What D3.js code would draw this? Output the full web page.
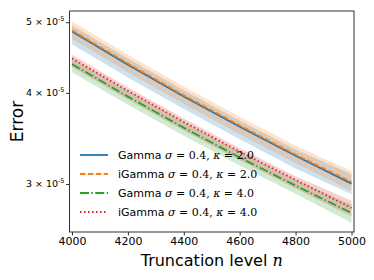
<!DOCTYPE html>
<html>
<head>
<meta charset="utf-8">
<script src="https://cdnjs.cloudflare.com/ajax/libs/d3/7.8.5/d3.min.js"></script>
<style>
	body { margin: 0; background: #fff; }
	svg text { font-family: 'DejaVu Sans', sans-serif; fill: #000; }
	.math { font-family: 'DejaVu Serif', 'Liberation Serif', serif; }
</style>
</head>
<body>
<div id="chart"></div>
<script>
// truncation levels
var nVals = [4000, 4200, 4400, 4600, 4800, 5000];

// series means (x 1e-5) and band bounds
var gamma2 = [4.855, 4.372, 3.955, 3.595, 3.280, 3.003];
var gamma2Lo = [4.665, 4.200, 3.800, 3.454, 3.151, 2.904];
var gamma2Hi = [4.950, 4.457, 4.032, 3.665, 3.344, 3.095];

var igamma2 = [4.874, 4.389, 3.970, 3.609, 3.292, 3.019];
var igamma2Lo = [4.740, 4.268, 3.861, 3.509, 3.202, 2.934];
var igamma2Hi = [5.010, 4.511, 4.081, 3.709, 3.384, 3.126];

var gamma4 = [4.380, 3.953, 3.583, 3.262, 2.984, 2.738];
var gamma4Lo = [4.270, 3.853, 3.493, 3.180, 2.909, 2.655];
var gamma4Hi = [4.460, 4.025, 3.649, 3.322, 3.039, 2.810];

var igamma4 = [4.460, 4.025, 3.649, 3.322, 3.039, 2.782];
var igamma4Lo = [4.340, 3.917, 3.551, 3.233, 2.957, 2.710];
var igamma4Hi = [4.510, 4.070, 3.690, 3.359, 3.073, 2.845];

var xTicks = [4000, 4200, 4400, 4600, 4800, 5000];
var yTicks = [3, 4, 5];

var labelNames = ['Gamma', 'iGamma', 'Gamma', 'iGamma'];
var labelKappa = ['2.0', '2.0', '4.0', '4.0'];
var colors = ['#1f77b4', '#ff7f0e', '#2ca02c', '#d62728'];
var dashes = [null, '5.5,2.4', '9,2.4,1.5,2.4', '1.5,2.5'];

var width = 374, height = 280;
var margin = { top: 11, right: 20, bottom: 48, left: 69.5 };
var w = width - margin.left - margin.right;
var h = height - margin.top - margin.bottom;

var series = [
	{ mean: gamma2, lo: gamma2Lo, hi: gamma2Hi },
	{ mean: igamma2, lo: igamma2Lo, hi: igamma2Hi },
	{ mean: gamma4, lo: gamma4Lo, hi: gamma4Hi },
	{ mean: igamma4, lo: igamma4Lo, hi: igamma4Hi }
];

var svg = d3.select('#chart').append('svg')
	.attr('width', width)
	.attr('height', height);

var g = svg.append('g')
	.attr('transform', 'translate(' + margin.left + ',' + margin.top + ')');

var x = d3.scaleLinear()
	.domain([3991, 5009])
	.range([0, w]);

var y = d3.scaleLog()
	.domain([2.578, 5.18])
	.range([h, 0]);

// bands
var area = d3.area()
	.x(function(d) { return x(d.n); })
	.y0(function(d) { return y(d.lo); })
	.y1(function(d) { return y(d.hi); });

series.forEach(function(s, i) {
	var pts = nVals.map(function(n, j) { return { n: n, lo: s.lo[j], hi: s.hi[j] }; });
	g.append('path')
		.datum(pts)
		.attr('d', area)
		.attr('fill', colors[i])
		.attr('fill-opacity', 0.22);
});

// lines
var line = d3.line()
	.x(function(d) { return x(d.n); })
	.y(function(d) { return y(d.v); });

series.forEach(function(s, i) {
	var pts = nVals.map(function(n, j) { return { n: n, v: s.mean[j] }; });
	g.append('path')
		.datum(pts)
		.attr('d', line)
		.attr('fill', 'none')
		.attr('stroke', colors[i])
		.attr('stroke-width', 1.8)
		.attr('stroke-dasharray', dashes[i]);
});

// frame
g.append('rect')
	.attr('width', w)
	.attr('height', h)
	.attr('fill', 'none')
	.attr('stroke', '#333')
	.attr('stroke-width', 1);

// x axis
var xAxis = g.append('g')
	.attr('transform', 'translate(0,' + h + ')')
	.call(d3.axisBottom(x).tickValues(xTicks).tickSize(3.5).tickPadding(2).tickFormat(d3.format('d')));
xAxis.select('.domain').remove();
xAxis.selectAll('line').attr('stroke', '#333');
xAxis.selectAll('text')
	.style('font-family', "'DejaVu Sans', sans-serif")
	.style('font-size', '11px');

// y axis with 10^-5 labels
var yAxis = g.append('g')
	.call(d3.axisLeft(y).tickValues(yTicks).tickSize(3.5).tickFormat(''));
yAxis.select('.domain').remove();
yAxis.selectAll('line').attr('stroke', '#333');

yTicks.forEach(function(t) {
	var txt = g.append('text')
		.attr('x', -5)
		.attr('y', y(t) + 3)
		.attr('text-anchor', 'end')
		.style('font-size', '9.5px');
	txt.append('tspan').text(t + ' \u00d7 10');
	txt.append('tspan')
		.attr('dy', -4)
		.style('font-size', '6.5px')
		.text('-5');
});

// axis labels
var xl = svg.append('text')
	.attr('x', margin.left + w / 2)
	.attr('y', 266)
	.attr('text-anchor', 'middle')
	.style('font-size', '16px');
xl.append('tspan').text('Truncation level ');
xl.append('tspan')
	.attr('class', 'math')
	.style('font-style', 'italic')
	.text('n');

svg.append('text')
	.attr('transform', 'translate(23,' + (margin.top + h / 2) + ') rotate(-90)')
	.attr('text-anchor', 'middle')
	.style('font-size', '17px')
	.text('Error');

// legend
var legend = svg.append('g')
	.attr('transform', 'translate(80,155)');

labelNames.forEach(function(name, i) {
	var row = legend.append('g')
		.attr('transform', 'translate(0,' + (i * 19) + ')');
	row.append('line')
		.attr('x1', 0).attr('x2', 28)
		.attr('stroke', colors[i])
		.attr('stroke-width', 1.8)
		.attr('stroke-dasharray', dashes[i]);
	var t = row.append('text')
		.attr('x', 38)
		.attr('y', 4)
		.style('font-size', '11px');
	t.append('tspan').text(name + ' ');
	t.append('tspan').attr('class', 'math').style('font-style', 'italic').text('\u03c3');
	t.append('tspan').attr('class', 'math').text(' = 0.4, ');
	t.append('tspan').attr('class', 'math').style('font-style', 'italic').text('\u03ba');
	t.append('tspan').attr('class', 'math').text(' = ' + labelKappa[i]);
});
</script>
</body>
</html>
